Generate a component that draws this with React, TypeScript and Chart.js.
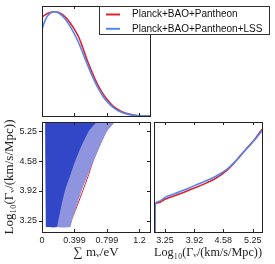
import React, { useEffect, useRef } from "react";
import { Chart, registerables } from "chart.js";
Chart.register(...registerables);

// ---------- data ----------
const seriesLabels = ["Planck+BAO+Pantheon", "Planck+BAO+Pantheon+LSS"];
const redColor = "rgb(222, 34, 44)";
const blueColor = "rgb(84, 134, 240)";
const innerColor = "rgb(50, 70, 200)";
const outerColor = "rgb(142, 148, 222)";

const mnuRange = [0, 1.33];
const logGRange = [3.0, 5.46];
const mnuTicks = [0, 0.399, 0.799, 1.2];
const mnuTickLabels = ["0", "0.399", "0.799", "1.2"];
const logGTicks = [3.25, 3.92, 4.58, 5.25];
const logGTickLabels = ["3.25", "3.92", "4.58", "5.25"];

// 1D posterior of sum m_nu
const mnuX = [0, 0.03, 0.06, 0.1, 0.15, 0.2, 0.25, 0.3, 0.35, 0.4, 0.45, 0.5, 0.55, 0.6, 0.65, 0.7, 0.75, 0.8, 0.85, 0.9, 0.95, 1.0, 1.05, 1.1, 1.15, 1.2, 1.25, 1.33];
const mnuRed = [0.95, 0.965, 0.98, 0.993, 1.0, 0.995, 0.975, 0.94, 0.89, 0.83, 0.76, 0.66, 0.55, 0.45, 0.36, 0.28, 0.215, 0.16, 0.115, 0.08, 0.055, 0.037, 0.024, 0.014, 0.007, 0.003, 0.001, 0];
const mnuBlue = [0.83, 0.9, 0.95, 0.985, 1.0, 0.99, 0.96, 0.915, 0.855, 0.785, 0.705, 0.61, 0.51, 0.415, 0.33, 0.255, 0.19, 0.14, 0.1, 0.068, 0.045, 0.029, 0.018, 0.01, 0.005, 0.002, 0.001, 0];

// 1D posterior of log10 Gamma
const logGX = [3.02, 3.025, 3.1, 3.25, 3.45, 3.7, 3.95, 4.2, 4.4, 4.5, 4.6, 4.7, 4.8, 4.9, 5.0, 5.1, 5.2, 5.3, 5.46];
const logGRed = [0, 0.27, 0.285, 0.318, 0.35, 0.39, 0.432, 0.478, 0.52, 0.548, 0.58, 0.617, 0.66, 0.708, 0.758, 0.807, 0.855, 0.905, 1.0];
const logGBlue = [0, 0.272, 0.296, 0.337, 0.37, 0.41, 0.456, 0.5, 0.54, 0.565, 0.592, 0.625, 0.665, 0.71, 0.758, 0.805, 0.852, 0.9, 0.985];

// 2D contours (sum m_nu, log10 Gamma)
const innerX = [0.05, 0.18, 0.2, 0.24, 0.284, 0.345, 0.408, 0.48, 0.573, 0.676, 0.7, 0.04];
const innerY = [3.11, 3.11, 3.25, 3.6, 3.93, 4.25, 4.58, 4.9, 5.25, 5.47, 5.56, 5.56];
const outerX = [0.045, 0.346, 0.367, 0.43, 0.49, 0.56, 0.634, 0.71, 0.8, 0.9, 0.93, 0.035];
const outerY = [3.11, 3.11, 3.25, 3.6, 3.93, 4.25, 4.58, 4.9, 5.25, 5.47, 5.56, 5.56];
const redOuterX = [0.338, 0.36, 0.436, 0.504, 0.568, 0.628, 0.7, 0.79, 0.89];
const redOuterY = [3.11, 3.25, 3.6, 3.93, 4.25, 4.58, 4.9, 5.25, 5.47];

const zip = (xs: number[], ys: number[]) => xs.map((x, i) => ({ x, y: ys[i] }));

const tickFont = { family: "'Liberation Sans', Arial, sans-serif", size: 9 };
const titleFont = { family: "'Liberation Serif', 'DejaVu Serif', serif", size: 13 };
const inkColor = "#222";

// frame + inward ticks
const framePlugin = {
  id: "frame",
  afterDatasetsDraw(chart: any, _args: any, opts: any) {
    const { ctx, chartArea: a, scales } = chart;
    ctx.save();
    ctx.strokeStyle = inkColor;
    ctx.lineWidth = 1;
    const L = 3;
    const seg = (x1: number, y1: number, x2: number, y2: number) => {
      ctx.beginPath();
      ctx.moveTo(x1, y1);
      ctx.lineTo(x2, y2);
      ctx.stroke();
    };
    (opts.xTicks || []).forEach((v: number) => {
      const px = Math.round(scales.x.getPixelForValue(v)) + 0.5;
      seg(px, a.bottom, px, a.bottom - L);
      seg(px, a.top, px, a.top + L);
    });
    (opts.yTicks || []).forEach((v: number) => {
      const py = Math.round(scales.y.getPixelForValue(v)) + 0.5;
      seg(a.left - (opts.leftOut ? L : 0), py, a.left + (opts.leftOut ? 0 : L), py);
      seg(a.right, py, a.right - L, py);
    });
    ctx.strokeRect(Math.round(a.left) + 0.5, Math.round(a.top) + 0.5, Math.round(a.right - a.left), Math.round(a.bottom - a.top));
    ctx.restore();
  },
};

// legend box drawn from the datasets
const legendBoxPlugin = {
  id: "legendBox",
  afterDraw(chart: any, _args: any, opts: any) {
    const { ctx } = chart;
    const { x, y, w, h, rowH } = opts;
    ctx.save();
    ctx.fillStyle = "#fff";
    ctx.fillRect(x, y, w, h);
    ctx.strokeStyle = "#333";
    ctx.lineWidth = 1;
    ctx.strokeRect(x + 0.5, y + 0.5, w, h);
    ctx.font = "10px 'Liberation Sans', Arial, sans-serif";
    ctx.textBaseline = "middle";
    ctx.fillStyle = "#111";
    const items = opts.order.map((i: number) => chart.data.datasets[i]);
    items.forEach((ds: any, i: number) => {
      const cy = y + 8.5 + i * rowH;
      ctx.strokeStyle = ds.borderColor;
      ctx.lineWidth = 2;
      ctx.beginPath();
      ctx.moveTo(x + 7, cy);
      ctx.lineTo(x + 21, cy);
      ctx.stroke();
      ctx.fillText(ds.label, x + 33, cy);
    });
    ctx.restore();
  },
};

function setTicks(values: number[]) {
  return (scale: any) => {
    scale.ticks = values.map((v) => ({ value: v }));
  };
}
function labelFor(values: number[], labels: string[]) {
  return (v: any) => {
    const i = values.findIndex((t) => Math.abs(t - Number(v)) < 1e-6);
    return i >= 0 ? labels[i] : "";
  };
}

const W = 275;
const H = 264;

function useChart(ref: React.RefObject<HTMLCanvasElement>, makeConfig: () => any) {
  useEffect(() => {
    if (!ref.current) return;
    const chart = new Chart(ref.current, makeConfig());
    return () => chart.destroy();
  }, []);
}

const lineStyle = (label: string, color: string, data: any[], order: number) => ({
  label,
  data,
  borderColor: color,
  backgroundColor: color,
  borderWidth: 1.6,
  pointRadius: 0,
  fill: false,
  cubicInterpolationMode: "monotone",
  order,
});

export default function App() {
  const refA = useRef<HTMLCanvasElement>(null);
  const refB = useRef<HTMLCanvasElement>(null);
  const refC = useRef<HTMLCanvasElement>(null);

  useChart(refA, () => ({
    type: "line",
    data: {
      datasets: [
        lineStyle(seriesLabels[0], redColor, zip(mnuX, mnuRed), 1),
        lineStyle(seriesLabels[1], blueColor, zip(mnuX, mnuBlue), 0),
      ],
    },
    options: {
      animation: false,
      responsive: false,
      layout: { padding: { left: 42, top: 6, right: 125, bottom: 148 } },
      scales: {
        x: { type: "linear", min: mnuRange[0], max: mnuRange[1], display: false },
        y: { type: "linear", min: 0, max: 1.055, display: false },
      },
      plugins: {
        legend: { display: false },
        tooltip: { enabled: false },
        frame: { xTicks: mnuTicks },
        legendBox: { x: 99, y: 6, w: 170, h: 28, rowH: 14.3, order: [0, 1] },
      },
    },
    plugins: [framePlugin, legendBoxPlugin],
  }));

  useChart(refB, () => ({
    type: "line",
    data: {
      datasets: [
        { label: "68%", data: zip(innerX, innerY), borderWidth: 0, borderColor: innerColor, backgroundColor: innerColor, pointRadius: 0, fill: "shape", tension: 0.2, order: 0 },
        { label: "95%", data: zip(outerX, outerY), borderWidth: 0, borderColor: outerColor, backgroundColor: outerColor, pointRadius: 0, fill: "shape", tension: 0.2, order: 1 },
        { label: "red 95%", data: zip(redOuterX, redOuterY), borderWidth: 1, borderColor: redColor, pointRadius: 0, fill: false, tension: 0.2, order: 2 },
      ],
    },
    options: {
      animation: false,
      responsive: false,
      layout: { padding: { left: 0, top: 122, right: 125, bottom: 0 } },
      scales: {
        x: {
          type: "linear",
          min: mnuRange[0],
          max: mnuRange[1],
          afterBuildTicks: setTicks(mnuTicks),
          afterFit: (s: any) => { s.height = 32; },
          grid: { display: false, drawTicks: false },
          border: { display: false },
          ticks: { font: tickFont, color: inkColor, padding: 3, maxRotation: 0, minRotation: 0, autoSkip: false, callback: labelFor(mnuTicks, mnuTickLabels) },
          title: { display: true, text: "∑ mᵥ/eV", font: titleFont, color: inkColor, padding: { top: 0, bottom: 4 } },
        },
        y: {
          type: "linear",
          min: logGRange[0],
          max: logGRange[1],
          afterBuildTicks: setTicks(logGTicks),
          afterFit: (s: any) => { s.width = 42; },
          grid: { display: false, drawTicks: false },
          border: { display: false },
          ticks: { font: tickFont, color: inkColor, padding: 5, autoSkip: false, callback: labelFor(logGTicks, logGTickLabels) },
          title: { display: true, text: "Log₁₀(Γᵥ/(km/s/Mpc))", font: titleFont, color: inkColor, padding: { top: 2, bottom: 0 } },
        },
      },
      plugins: {
        legend: { display: false },
        tooltip: { enabled: false },
        frame: { xTicks: mnuTicks, yTicks: logGTicks, leftOut: true },
      },
    },
    plugins: [framePlugin],
  }));

  useChart(refC, () => ({
    type: "line",
    data: {
      datasets: [
        lineStyle(seriesLabels[0], redColor, zip(logGX, logGRed), 1),
        lineStyle(seriesLabels[1], blueColor, zip(logGX, logGBlue), 0),
      ],
    },
    options: {
      animation: false,
      responsive: false,
      layout: { padding: { left: 154, top: 122, right: 13, bottom: 0 } },
      scales: {
        x: {
          type: "linear",
          min: logGRange[0],
          max: logGRange[1],
          afterBuildTicks: setTicks(logGTicks),
          afterFit: (s: any) => { s.height = 32; },
          grid: { display: false, drawTicks: false },
          border: { display: false },
          ticks: { font: tickFont, color: inkColor, padding: 3, maxRotation: 0, minRotation: 0, autoSkip: false, callback: labelFor(logGTicks, logGTickLabels) },
          title: { display: true, text: "Log₁₀(Γᵥ/(km/s/Mpc))", font: titleFont, color: inkColor, padding: { top: 0, bottom: 4 } },
        },
        y: { type: "linear", min: 0, max: 1.07, display: false },
      },
      plugins: {
        legend: { display: false },
        tooltip: { enabled: false },
        frame: { xTicks: logGTicks },
      },
    },
    plugins: [framePlugin],
  }));

  const cStyle: React.CSSProperties = { position: "absolute", left: 0, top: 0, width: W, height: H };
  return (
    <div style={{ position: "absolute", left: 0, top: 0, width: W, height: H, background: "#fff" }}>
      <canvas ref={refB} width={W} height={H} style={cStyle} />
      <canvas ref={refC} width={W} height={H} style={cStyle} />
      <canvas ref={refA} width={W} height={H} style={cStyle} />
    </div>
  );
}
